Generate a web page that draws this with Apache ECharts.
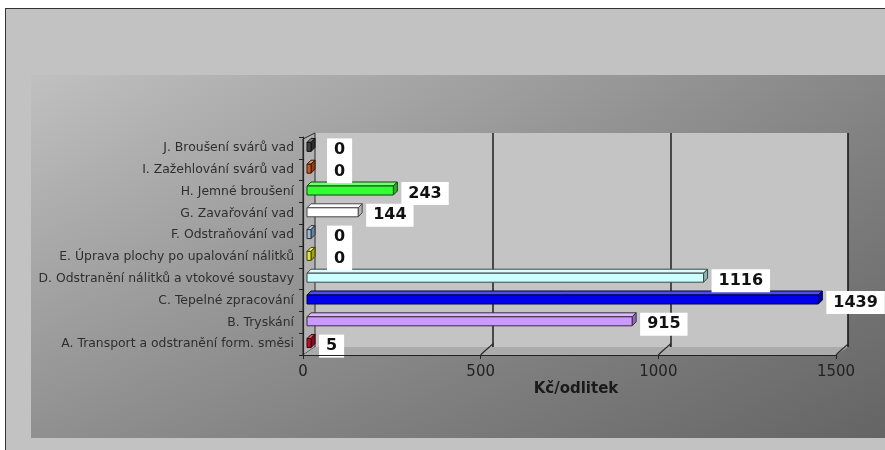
<!DOCTYPE html>
<html>
<head>
<meta charset="utf-8">
<script src="https://cdn.jsdelivr.net/npm/echarts@6/dist/echarts.min.js"></script>
<style>
html,body{margin:0;padding:0;background:#fff;width:885px;height:450px;overflow:hidden;}
#frame{position:absolute;left:5px;top:8px;width:885px;height:445px;box-sizing:border-box;border-left:1px solid #333;border-top:1px solid #333;background:#c2c2c2;}
#panel{position:absolute;left:31px;top:75px;width:854px;height:363px;
background:linear-gradient(to bottom, rgba(0,0,0,0) 0%, rgba(0,0,0,0.25) 100%), linear-gradient(to right, #c0c0c0 0%, #a8a8a8 40%, #868686 100%);}
#chart{position:absolute;left:0;top:0;width:885px;height:450px;}
</style>
</head>
<body>
<div id="frame"></div>
<div id="panel"></div>
<div id="chart"></div>
<script>
const categories = [
  "A. Transport a odstranění form. směsi",
  "B. Tryskání",
  "C. Tepelné zpracování",
  "D. Odstranění nálitků a vtokové soustavy",
  "E. Úprava plochy po upalování nálitků",
  "F. Odstraňování vad",
  "G. Zavařování vad",
  "H. Jemné broušení",
  "I. Zažehlování svárů vad",
  "J. Broušení svárů vad"
];
const values = [5, 915, 1439, 1116, 0, 0, 144, 243, 0, 0];
const barColors = ["#c0102a", "#cc99ff", "#0000ee", "#ccffff", "#e6e62a", "#9ab8d8", "#ffffff", "#33ff33", "#c85a28", "#404040"];
const xTicks = [0, 500, 1000, 1500];
const axisTitle = "Kč/odlitek";

const chart = echarts.init(document.getElementById('chart'), null, {renderer:'canvas'});
const front = {left:303, top:137, width:533, height:218};
const back = {left:315, top:133, width:533, height:214};
const midDepth = (back.left - front.left) / 2;

function shade(hex, f) {
  const n = parseInt(hex.slice(1), 16);
  let r = (n >> 16) & 255, g = (n >> 8) & 255, b = n & 255;
  if (f < 0) { r = r * (1 + f); g = g * (1 + f); b = b * (1 + f); }
  else { r = r + (255 - r) * f; g = g + (255 - g) * f; b = b + (255 - b) * f; }
  return 'rgb(' + Math.round(r) + ',' + Math.round(g) + ',' + Math.round(b) + ')';
}

function renderBar(params, api) {
  const cat = api.value(0), val = api.value(1), idx = params.dataIndex;
  const p0 = api.coord([0, cat]);
  const p1 = api.coord([val, cat]);
  const h = 9, d = 4, minLen = 4;
  const x0 = p0[0] + midDepth - 2;
  const x1 = Math.max(p1[0] + midDepth - 2, x0 + minLen);
  const yc = p0[1] - 1;
  const yt = yc - h / 2, yb = yc + h / 2;
  const col = barColors[idx];
  const edge = shade(col, -0.72);
  const children = [
    {type:'polygon', shape:{points:[[x0,yt],[x0+d,yt-d],[x1+d,yt-d],[x1,yt]]}, style:{fill:shade(col,0.3), stroke:edge, lineWidth:1}},
    {type:'polygon', shape:{points:[[x1,yt],[x1+d,yt-d],[x1+d,yb-d],[x1,yb]]}, style:{fill:shade(col,-0.3), stroke:edge, lineWidth:1}},
    {type:'rect', shape:{x:x0, y:yt, width:x1-x0, height:h}, style:{fill:col, stroke:edge, lineWidth:1}},
    {type:'text', x:x1 + d + (val === 0 ? 12 : 4), y:p0[1] + 2, style:{text:String(val), fill:'#111',
      font:'bold 16px "DejaVu Sans"', verticalAlign:'middle', align:'left',
      backgroundColor:'#ffffff', padding:[4,7,3,7]}}
  ];
  return {type:'group', children};
}

chart.setOption({
  backgroundColor: 'transparent',
  animation: false,
  grid: [
    {left: front.left, top: front.top, width: front.width, height: front.height, containLabel:false},
    {left: back.left, top: back.top, width: back.width, height: back.height, show:true, backgroundColor:'#c4c4c4', borderWidth:0}
  ],
  xAxis: [
    {gridIndex:0, type:'value', min:xTicks[0], max:xTicks[xTicks.length-1], interval:500, z:5,
     axisLine:{show:true, lineStyle:{color:'#222', width:1.2}},
     axisTick:{show:true, length:4, lineStyle:{color:'#222'}},
     axisLabel:{margin:10, fontFamily:'DejaVu Sans', fontSize:15, color:'#222', formatter: v => String(v)},
     splitLine:{show:false},
     name: axisTitle, nameLocation:'middle', nameGap:27,
     nameTextStyle:{fontFamily:'DejaVu Sans', fontWeight:'bold', fontSize:15, color:'#1a1a1a', padding:[0,0,0,13]}
    },
    {gridIndex:1, type:'value', min:xTicks[0], max:xTicks[xTicks.length-1], interval:500,
     axisLine:{show:false}, axisTick:{show:false}, axisLabel:{show:false},
     splitLine:{show:true, lineStyle:{color:['rgba(0,0,0,0)','#2a2a2a','#2a2a2a','#1a1a1a'], width:1.6}}
    }
  ],
  yAxis: [
    {gridIndex:0, type:'category', data:categories, z:5,
     axisLine:{show:true, lineStyle:{color:'#222', width:1.2}},
     axisTick:{show:true, length:4, lineStyle:{color:'#222'}},
     axisLabel:{margin:9, fontFamily:'DejaVu Sans', fontSize:12.4, color:'#2e2e2e'}
    },
    {gridIndex:1, type:'category', data:categories, show:false}
  ],
  series: [{
    type:'custom', xAxisIndex:0, yAxisIndex:0, z:3,
    renderItem: renderBar,
    encode:{x:1, y:0},
    data: values.map((v,i)=>[i, v])
  }]
});

const px = v => chart.convertToPixel({xAxisIndex:0}, v);
const pxb = v => chart.convertToPixel({xAxisIndex:1}, v);
const fy = front.top + front.height, by = back.top + back.height;
const gfx = [
  {type:'polygon', z:1, shape:{points:[[px(0),front.top+2],[pxb(0),back.top],[pxb(0),by],[px(0),fy]]},
   style:{fill:'#b2b2b2', stroke:'#2a2a2a', lineWidth:1}},
  {type:'polygon', z:1, shape:{points:[[px(0),fy],[pxb(0),by],[pxb(1500),by],[px(1500),fy]]},
   style:{fill:'#ababab'}}
];
xTicks.slice(1).forEach(t=>{
  gfx.push({type:'polyline', z:6, shape:{points:[[px(t),fy],[px(t)+3,fy-3],[pxb(t),by-3],[pxb(t),by]]}, style:{stroke:'#2a2a2a', lineWidth:1.2, fill:null}});
});
chart.setOption({graphic: gfx});
</script>
</body>
</html>
